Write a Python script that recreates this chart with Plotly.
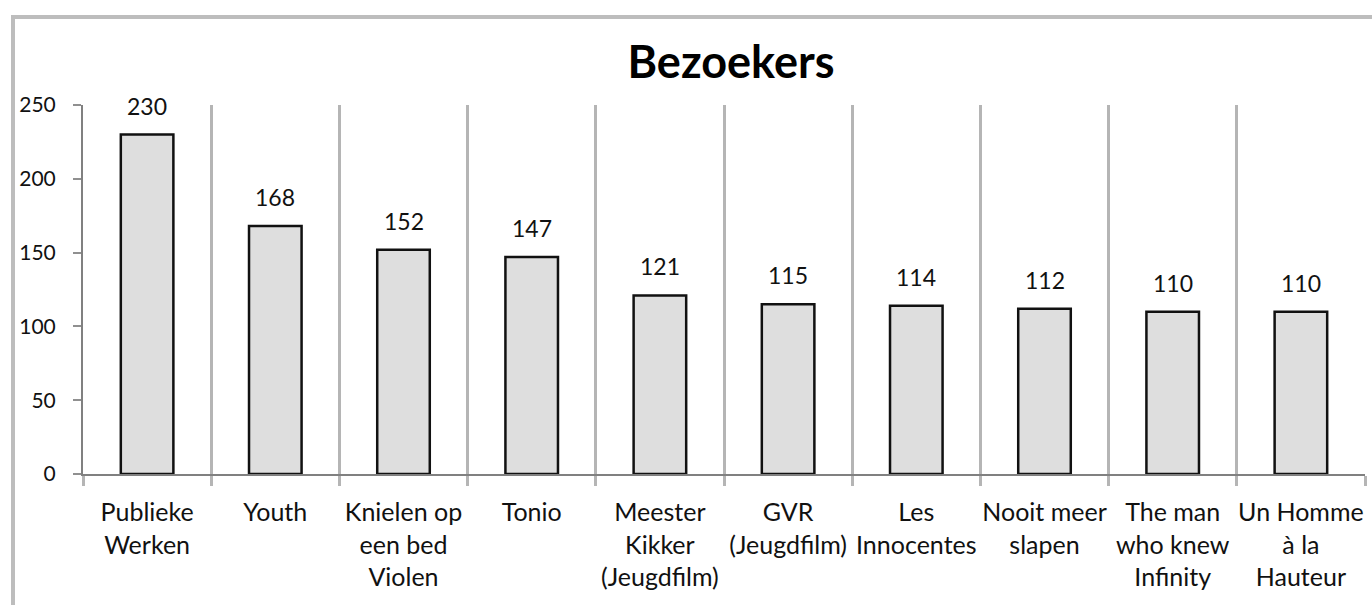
import plotly.graph_objects as go

categories = [
    "Publieke<br>Werken",
    "Youth",
    "Knielen op<br>een bed<br>Violen",
    "Tonio",
    "Meester<br>Kikker<br>(Jeugdfilm)",
    "GVR<br>(Jeugdfilm)",
    "Les<br>Innocentes",
    "Nooit meer<br>slapen",
    "The man<br>who knew<br>Infinity",
    "Un Homme<br>à la<br>Hauteur",
]
values = [230, 168, 152, 147, 121, 115, 114, 112, 110, 110]
y_ticks = [0, 50, 100, 150, 200, 250]
title_text = "Bezoekers"

FONT = "Lato, 'Open Sans', sans-serif"

fig = go.Figure()
fig.add_trace(go.Bar(
    x=categories,
    y=values,
    width=0.41,
    marker=dict(color="#dedede", line=dict(color="#111111", width=2.5)),
    hoverinfo="x+y",
))

for c, v in zip(categories, values):
    fig.add_annotation(
        x=c, y=v, text=str(v), showarrow=False,
        yanchor="middle", yshift=29,
        font=dict(family=FONT, size=23, color="#111111"),
    )

L, R, T, B = 83, 7, 105, 131
W, H = 1372, 605
pw, ph = W - L - R, H - T - B

fig.add_shape(
    type="rect", xref="paper", yref="paper",
    x0=(13 - L) / pw, x1=1.2, y0=-1.0, y1=1 + (T - 17) / ph,
    line=dict(color="#bdbdbd", width=4), fillcolor="rgba(0,0,0,0)",
    layer="below",
)

fig.update_layout(
    width=W, height=H,
    margin=dict(l=L, r=R, t=T, b=B, pad=0, autoexpand=False),
    paper_bgcolor="white", plot_bgcolor="white",
    showlegend=False,
    font=dict(family=FONT, size=21, color="#111111"),
    title=dict(
        text="<b>" + title_text + "</b>",
        x=(731 - L) / pw, xref="paper", xanchor="center",
        y=1 - 62 / H, yref="container", yanchor="middle",
        font=dict(family=FONT, size=45, color="#000000"),
    ),
    xaxis=dict(
        type="category",
        range=[-0.5, len(categories) - 0.5],
        tickson="boundaries",
        tickangle=0,
        automargin=False,
        ticks="outside", ticklen=10, tickwidth=3, tickcolor="#b5b5b5",
        showgrid=True, gridcolor="#b5b5b5", gridwidth=3,
        showline=True, linecolor="#808080", linewidth=2,
        tickfont=dict(family=FONT, size=25, color="#111111"),
        ticklabelstandoff=15,
        fixedrange=True,
    ),
    yaxis=dict(
        range=[0, 250],
        tickvals=y_ticks,
        automargin=False,
        ticks="outside", ticklen=8, tickwidth=2, tickcolor="#909090",
        showgrid=False, zeroline=False,
        showline=True, linecolor="#808080", linewidth=2,
        tickfont=dict(family=FONT, size=21, color="#111111"),
        ticklabelstandoff=13,
        fixedrange=True,
    ),
)

fig.write_html(
    "out.html",
    config={"displayModeBar": False},
    post_script="document.body.style.margin='0';",
)
